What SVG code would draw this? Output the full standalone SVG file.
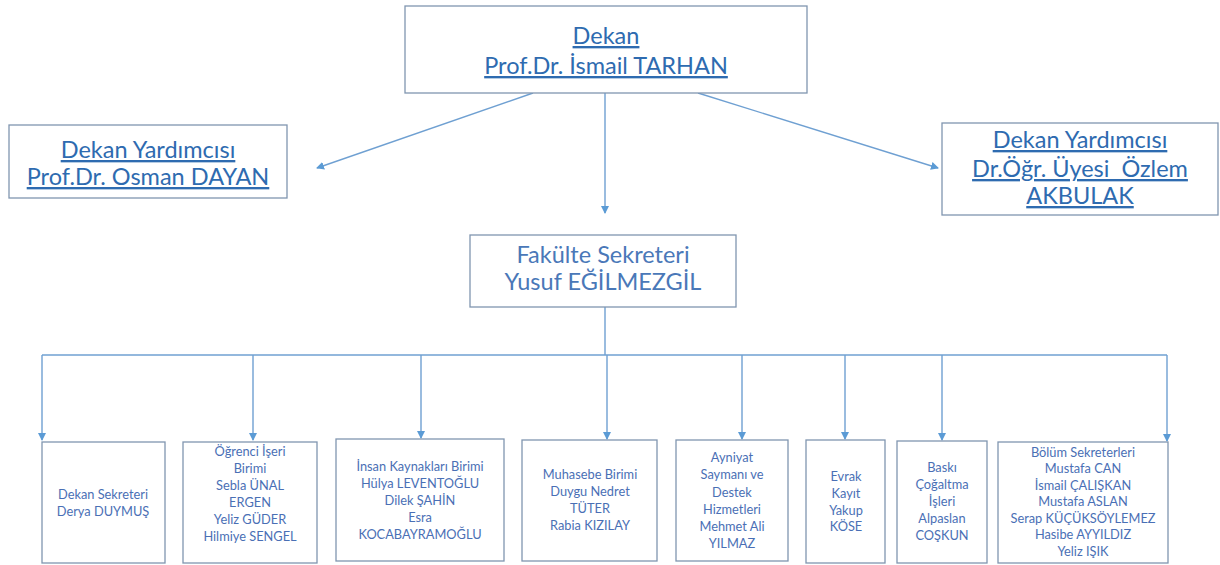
<svg xmlns="http://www.w3.org/2000/svg" width="1220" height="565" viewBox="0 0 1220 565">
<defs>
<marker id="ah" markerWidth="8" markerHeight="8" refX="7" refY="4" orient="auto" markerUnits="userSpaceOnUse">
<path d="M0,0 L8,4 L0,8 Z" fill="#5b9bd5"/>
</marker>
<style>
.box{fill:#fff;stroke:#8096b0;stroke-width:1.3}
.con{fill:none;stroke:#6fa0d2;stroke-width:1.4}
.t1{font-family:Lato,"Liberation Sans",sans-serif;font-size:23.5px;fill:#2e6bb0;text-anchor:middle;text-decoration:underline}
.t2{font-family:Lato,"Liberation Sans",sans-serif;font-size:23.5px;fill:#4a78b8;text-anchor:middle}
.t3{font-family:Lato,"Liberation Sans",sans-serif;font-size:12.8px;fill:#4a6fb5;text-anchor:middle}
</style>
</defs>
<rect width="1220" height="565" fill="#fff"/>
<g id="connectors">
<line class="con" x1="605" y1="93" x2="605" y2="213" marker-end="url(#ah)"/>
<line class="con" x1="533" y1="93" x2="317" y2="168" marker-end="url(#ah)"/>
<line class="con" x1="698" y1="93" x2="938" y2="168" marker-end="url(#ah)"/>
<line class="con" x1="605" y1="307" x2="605" y2="355"/>
<line class="con" x1="42" y1="355" x2="1167" y2="355"/>
<line class="con" x1="42" y1="355" x2="42" y2="440" marker-end="url(#ah)"/>
<line class="con" x1="253" y1="355" x2="253" y2="440" marker-end="url(#ah)"/>
<line class="con" x1="421" y1="355" x2="421" y2="438" marker-end="url(#ah)"/>
<line class="con" x1="607" y1="355" x2="607" y2="439" marker-end="url(#ah)"/>
<line class="con" x1="742" y1="355" x2="742" y2="439" marker-end="url(#ah)"/>
<line class="con" x1="845" y1="355" x2="845" y2="439" marker-end="url(#ah)"/>
<line class="con" x1="942" y1="355" x2="942" y2="440" marker-end="url(#ah)"/>
<line class="con" x1="1167" y1="355" x2="1167" y2="441" marker-end="url(#ah)"/>
</g>
<g id="dekan">
<rect class="box" x="405" y="6" width="402" height="87"/>
<text class="t1" x="606" y="44">Dekan</text>
<text class="t1" x="606" y="74">Prof.Dr. İsmail TARHAN</text>
</g>
<g id="yardimci1">
<rect class="box" x="9" y="125" width="278" height="73"/>
<text class="t1" x="148" y="158">Dekan Yardımcısı</text>
<text class="t1" x="148" y="185">Prof.Dr. Osman DAYAN</text>
</g>
<g id="yardimci2">
<rect class="box" x="942" y="123" width="276" height="92"/>
<text class="t1" x="1080" y="148">Dekan Yardımcısı</text>
<text class="t1" x="1080" y="177" xml:space="preserve">Dr.Öğr. Üyesi  Özlem</text>
<text class="t1" x="1080" y="204">AKBULAK</text>
</g>
<g id="sekreter">
<rect class="box" x="470" y="235" width="266" height="72"/>
<text class="t2" x="603" y="263">Fakülte Sekreteri</text>
<text class="t2" x="603" y="290">Yusuf EĞİLMEZGİL</text>
</g>
<g id="b1">
<rect class="box" x="42" y="442" width="123" height="121"/>
<text class="t3" x="103" y="499">Dekan Sekreteri</text>
<text class="t3" x="103" y="516">Derya DUYMUŞ</text>
</g>
<g id="b2">
<rect class="box" x="183" y="442" width="134" height="121"/>
<text class="t3" x="250" y="456">Öğrenci İşeri</text>
<text class="t3" x="250" y="473">Birimi</text>
<text class="t3" x="250" y="490">Sebla ÜNAL</text>
<text class="t3" x="250" y="507">ERGEN</text>
<text class="t3" x="250" y="524">Yeliz GÜDER</text>
<text class="t3" x="250" y="541">Hilmiye SENGEL</text>
</g>
<g id="b3">
<rect class="box" x="336" y="439" width="168" height="122"/>
<text class="t3" x="420" y="471">İnsan Kaynakları Birimi</text>
<text class="t3" x="420" y="488">Hülya LEVENTOĞLU</text>
<text class="t3" x="420" y="505">Dilek ŞAHİN</text>
<text class="t3" x="420" y="522">Esra</text>
<text class="t3" x="420" y="539">KOCABAYRAMOĞLU</text>
</g>
<g id="b4">
<rect class="box" x="522" y="440" width="135" height="121"/>
<text class="t3" x="590" y="479">Muhasebe Birimi</text>
<text class="t3" x="590" y="496">Duygu Nedret</text>
<text class="t3" x="590" y="513">TÜTER</text>
<text class="t3" x="590" y="530">Rabia KIZILAY</text>
</g>
<g id="b5">
<rect class="box" x="676" y="440" width="112" height="121"/>
<text class="t3" x="732" y="462">Ayniyat</text>
<text class="t3" x="732" y="479">Saymanı ve</text>
<text class="t3" x="732" y="497">Destek</text>
<text class="t3" x="732" y="514">Hizmetleri</text>
<text class="t3" x="732" y="531">Mehmet Ali</text>
<text class="t3" x="732" y="548">YILMAZ</text>
</g>
<g id="b6">
<rect class="box" x="806" y="440" width="79" height="123"/>
<text class="t3" x="846" y="481">Evrak</text>
<text class="t3" x="846" y="498">Kayıt</text>
<text class="t3" x="846" y="515">Yakup</text>
<text class="t3" x="846" y="531">KÖSE</text>
</g>
<g id="b7">
<rect class="box" x="897" y="441" width="90" height="122"/>
<text class="t3" x="942" y="472">Baskı</text>
<text class="t3" x="942" y="489">Çoğaltma</text>
<text class="t3" x="942" y="506">İşleri</text>
<text class="t3" x="942" y="523">Alpaslan</text>
<text class="t3" x="942" y="540">COŞKUN</text>
</g>
<g id="b8">
<rect class="box" x="998" y="442" width="170" height="121"/>
<text class="t3" x="1083" y="457">Bölüm Sekreterleri</text>
<text class="t3" x="1083" y="473">Mustafa CAN</text>
<text class="t3" x="1083" y="490">İsmail ÇALIŞKAN</text>
<text class="t3" x="1083" y="506">Mustafa ASLAN</text>
<text class="t3" x="1083" y="523">Serap KÜÇÜKSÖYLEMEZ</text>
<text class="t3" x="1083" y="539">Hasibe AYYILDIZ</text>
<text class="t3" x="1083" y="556">Yeliz IŞIK</text>
</g>
</svg>
